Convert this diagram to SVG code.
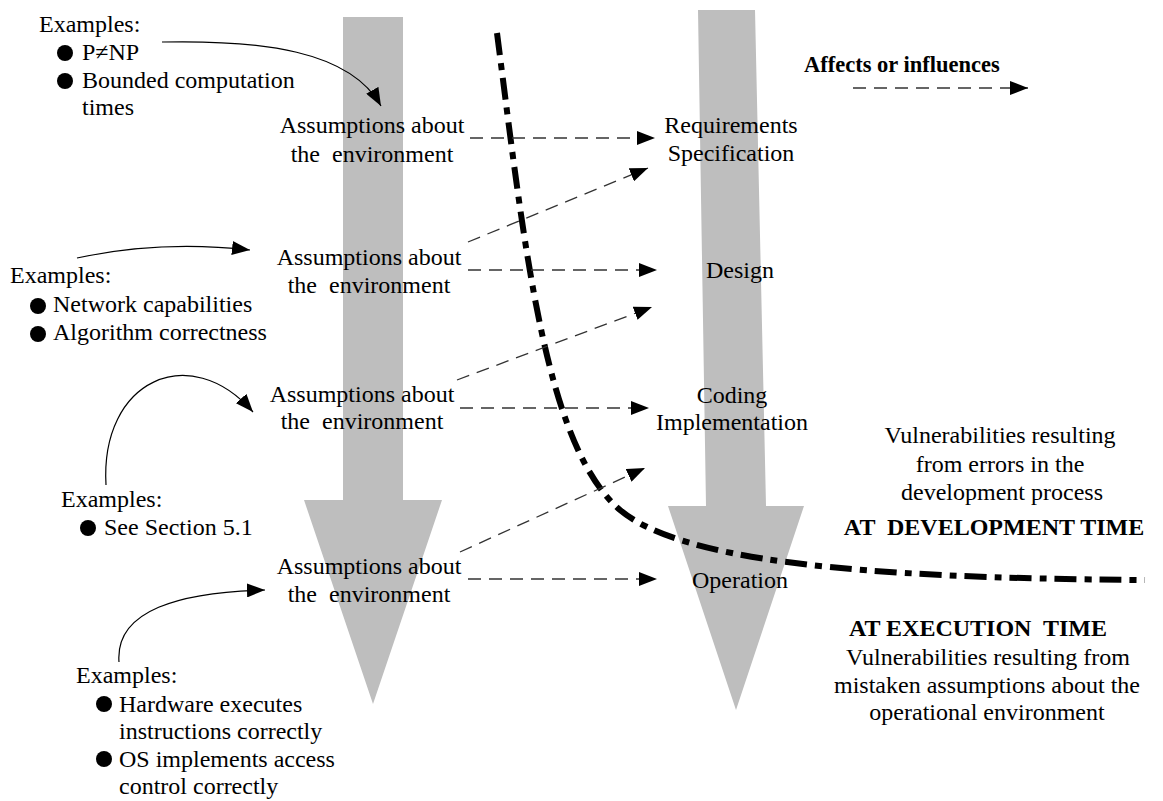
<svg xmlns="http://www.w3.org/2000/svg" width="1163" height="801" viewBox="0 0 1163 801">
<style>
text{font-family:"Liberation Serif","Times New Roman",serif;font-size:24px;fill:#000;white-space:pre}
.b{font-weight:bold}
.m{text-anchor:middle}
.gray{fill:#bebebe;stroke:none}
.dash{fill:none;stroke:#333;stroke-width:1.3;stroke-dasharray:13 8}
.solid{fill:none;stroke:#000;stroke-width:1.2}
.dd{fill:none;stroke:#000;stroke-width:6;stroke-dasharray:22 8 7 8}
</style>
<defs>
<marker id="ah" markerWidth="18" markerHeight="14" refX="18" refY="7" orient="auto" markerUnits="userSpaceOnUse">
<path d="M0,0 L18,7 L0,14 Z" fill="#000"/>
</marker>
</defs>
<rect width="1163" height="801" fill="#fff"/>
<g id="big-arrow-left">
<polygon class="gray" points="343,17 403,17 403,500 442,500 373,704 304,500 343,500"/>
</g>
<g id="big-arrow-right">
<polygon class="gray" points="698,10 755,10 766,506 804,506 736,710 668,506 706,506"/>
</g>
<g id="boundary">
<path class="dd" d="M497,33 C525,250 545,445 620,510 C680,560 850,578 1145,580"/>
</g>
<g id="connectors">
<path class="dash" d="M470,138 L655,138" marker-end="url(#ah)"/>
<path class="dash" d="M468,270 L657,270" marker-end="url(#ah)"/>
<path class="dash" d="M468,242 L648,168" marker-end="url(#ah)"/>
<path class="dash" d="M460,408 L649,408" marker-end="url(#ah)"/>
<path class="dash" d="M457,380 L652,307" marker-end="url(#ah)"/>
<path class="dash" d="M468,579 L657,579" marker-end="url(#ah)"/>
<path class="dash" d="M460,552 L645,468" marker-end="url(#ah)"/>
<path class="dash" d="M853,88 L1028,88" marker-end="url(#ah)"/>
<path class="solid" d="M162,42 C260,40 350,50 381,106" marker-end="url(#ah)"/>
<path class="solid" d="M77,258 Q160,240 250,250" marker-end="url(#ah)"/>
<path class="solid" d="M106,485 C100,380 190,340 253,412" marker-end="url(#ah)"/>
<path class="solid" d="M119,662 C115,610 180,592 265,590" marker-end="url(#ah)"/>
</g>
<g id="legend">
<text class="b" x="804" y="72" style="font-size:22.5px">Affects or influences</text>
</g>
<g id="assumption-1">
<text class="m" x="372" y="133">Assumptions about</text>
<text class="m" x="372" y="162">the  environment</text>
</g>
<g id="assumption-2">
<text class="m" x="369" y="265">Assumptions about</text>
<text class="m" x="369" y="293">the  environment</text>
</g>
<g id="assumption-3">
<text class="m" x="362" y="402">Assumptions about</text>
<text class="m" x="362" y="429">the  environment</text>
</g>
<g id="assumption-4">
<text class="m" x="369" y="574">Assumptions about</text>
<text class="m" x="369" y="602">the  environment</text>
</g>
<g id="requirements">
<text class="m" x="731" y="133">Requirements</text>
<text class="m" x="731" y="161">Specification</text>
</g>
<g id="design">
<text class="m" x="740" y="278">Design</text>
</g>
<g id="coding">
<text class="m" x="732" y="403">Coding</text>
<text class="m" x="732" y="430">Implementation</text>
</g>
<g id="operation">
<text class="m" x="740" y="588">Operation</text>
</g>
<g id="examples-1">
<text x="39" y="32">Examples:</text>
<circle cx="65" cy="53" r="8"/>
<text x="82" y="60">P≠NP</text>
<circle cx="65" cy="81" r="8"/>
<text x="82" y="88">Bounded computation</text>
<text x="82" y="115">times</text>
</g>
<g id="examples-2">
<text x="10" y="283">Examples:</text>
<circle cx="38" cy="306" r="8"/>
<text x="53" y="312">Network capabilities</text>
<circle cx="38" cy="334" r="8"/>
<text x="53" y="340">Algorithm correctness</text>
</g>
<g id="examples-3">
<text x="61" y="507">Examples:</text>
<circle cx="88" cy="528" r="8"/>
<text x="104" y="535">See Section 5.1</text>
</g>
<g id="examples-4">
<text x="76" y="683">Examples:</text>
<circle cx="104" cy="704" r="8"/>
<text x="119" y="712">Hardware executes</text>
<text x="119" y="739">instructions correctly</text>
<circle cx="104" cy="759" r="8"/>
<text x="119" y="767">OS implements access</text>
<text x="119" y="794">control correctly</text>
</g>
<g id="development-time">
<text class="m" x="1000" y="443">Vulnerabilities resulting</text>
<text class="m" x="1000" y="472">from errors in the</text>
<text class="m" x="1002" y="500">development process</text>
<text class="b m" x="994" y="535">AT  DEVELOPMENT TIME</text>
</g>
<g id="execution-time">
<text class="b m" x="978" y="636">AT EXECUTION  TIME</text>
<text class="m" x="988" y="665">Vulnerabilities resulting from</text>
<text class="m" x="987" y="693">mistaken assumptions about the</text>
<text class="m" x="987" y="720">operational environment</text>
</g>
</svg>
